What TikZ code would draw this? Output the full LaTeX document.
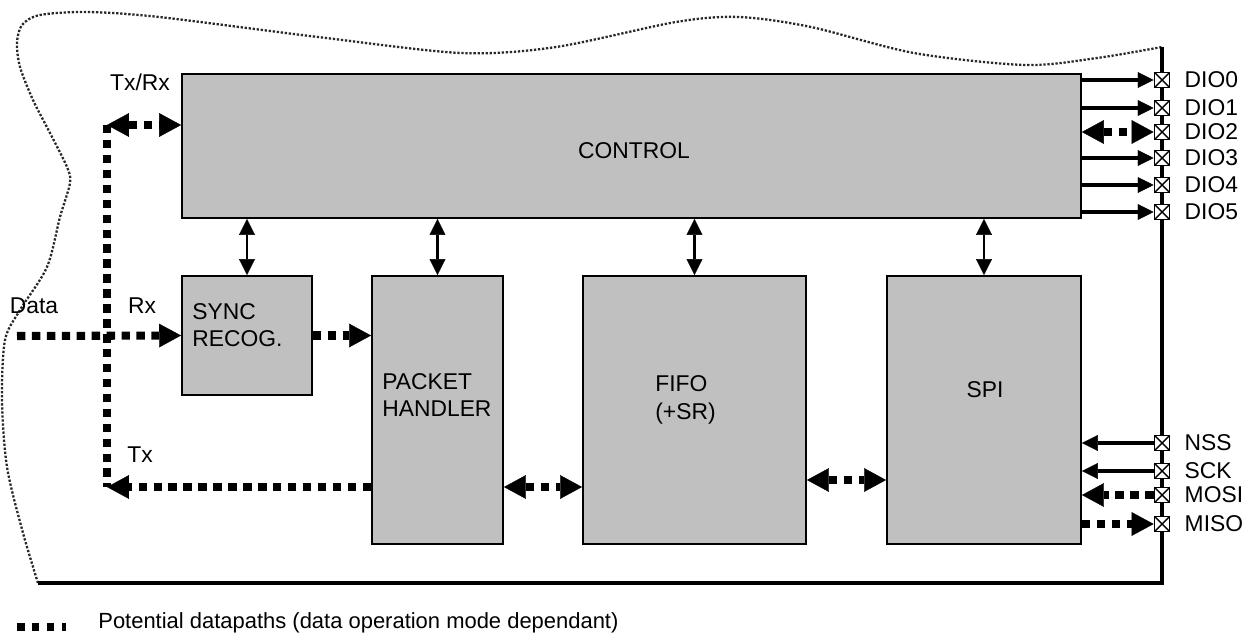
\documentclass[tikz,border=0pt]{standalone}
\usepackage{fontspec}
\setmainfont{Liberation Sans}
\usepackage{tikz}
\usetikzlibrary{arrows.meta}
\definecolor{boxgray}{RGB}{192,192,192}
\definecolor{edgegray}{RGB}{40,40,40}

\begin{document}
\begin{tikzpicture}[x=0.02cm,y=-0.02cm,
    blk/.style={draw,line width=1.1pt,fill=boxgray,inner sep=0pt},
    pin/.style={draw,line width=1pt,fill=white,minimum size=0.3cm,inner sep=0pt,
      label={[pinlbl]right:#1},
      path picture={\draw[line width=0.8pt] (path picture bounding box.north west) -- (path picture bounding box.south east)
        (path picture bounding box.south west) -- (path picture bounding box.north east);}},
    pinlbl/.style={font=\fontsize{13}{15}\selectfont,inner sep=0pt,label distance=0.28cm},
    lbl/.style={font=\fontsize{13}{15.5}\selectfont,inner sep=0pt},
    sig/.style={line width=2pt,-{Triangle[length=9pt,width=9pt,line width=0.2pt]}},
    bus/.style={line width=1.5pt,{Triangle[length=9pt,width=9pt,line width=0.2pt]}-{Triangle[length=9pt,width=9pt,line width=0.2pt]}},
    dpath/.style={line width=4.6pt,dash pattern=on 4.8pt off 3.7pt},
    dtip/.style={-{Triangle[length=12.5pt,width=13.5pt,line width=0.2pt]}},
    ddtip/.style={{Triangle[length=12.5pt,width=13.5pt,line width=0.2pt]}-{Triangle[length=12.5pt,width=13.5pt,line width=0.2pt]}}]
        \useasboundingbox (0,0) rectangle (1245,635);
        \draw[densely dotted,line width=1.3pt,edgegray] plot[smooth] coordinates {(38,583) (23,533) (7,467) (2,400) (5,340) (20,310) (47,267) (60,217) (70,183) (67,167) (50,133) (33,100) (20,67) (17,43) (22,25) (40,15) (87,12) (159,17) (318,37) (461,53) (556,47) (676,22) (739,17) (811,27) (914,53) (1025,65) (1097,58) (1162,47)};
        \coordinate (edgetop) at (1162,47);
        \coordinate (edgecorner) at (1162,583);
        \coordinate (edgeend) at (38,583);
        \draw[line width=2pt] (edgetop) -- (edgecorner) -- (edgeend);
        \node[blk,minimum width=17.98cm,minimum height=2.88cm] (control) at (631.5,146) {};
        \node[blk,minimum width=2.6cm,minimum height=2.38cm] (sync) at (247,335.5) {};
        \node[blk,minimum width=2.62cm,minimum height=5.36cm] (packet) at (437.5,410) {};
        \node[blk,minimum width=4.46cm,minimum height=5.36cm] (fifo) at (694.5,410) {};
        \node[blk,minimum width=3.88cm,minimum height=5.36cm] (spi) at (984,410) {};
        \node[lbl] (controltxt) at (634,151) {CONTROL};
        \node[lbl,align=left,anchor=west] (synctxt) at (192,325) {SYNC\\RECOG.};
        \node[lbl,align=left,anchor=west] (packettxt) at (382,395) {PACKET\\HANDLER};
        \node[lbl,align=left,anchor=west] (fifotxt) at (655,400) {FIFO\\(+SR)};
        \node[lbl] (spitxt) at (985,390) {SPI};
        \node[pin=DIO0] (dio0) at (1162,80) {};
        \node[pin=DIO1] (dio1) at (1162,108) {};
        \node[pin=DIO2] (dio2) at (1162,132) {};
        \node[pin=DIO3] (dio3) at (1162,158) {};
        \node[pin=DIO4] (dio4) at (1162,185) {};
        \node[pin=DIO5] (dio5) at (1162,212) {};
        \node[pin=NSS] (nss) at (1162,443) {};
        \node[pin=SCK] (sck) at (1162,471) {};
        \node[pin=MOSI] (mosi) at (1162,495) {};
        \node[pin=MISO] (miso) at (1162,524) {};
        \draw[sig] (control.east |- dio0) -- (dio0.west);
        \draw[sig] (control.east |- dio1) -- (dio1.west);
        \draw[dpath,ddtip] (control.east |- dio2) -- (dio2.west);
        \draw[sig] (control.east |- dio3) -- (dio3.west);
        \draw[sig] (control.east |- dio4) -- (dio4.west);
        \draw[sig] (control.east |- dio5) -- (dio5.west);
        \draw[sig] (nss.west) -- (spi.east |- nss);
        \draw[sig] (sck.west) -- (spi.east |- sck);
        \draw[dpath,dtip] (mosi.west) -- (spi.east |- mosi);
        \draw[dpath,dtip] (spi.east |- miso) -- (miso.west);
        \draw[bus] (control.south -| sync.north) -- (sync.north);
        \draw[bus] (control.south -| packet.north) -- (packet.north);
        \draw[bus] (control.south -| fifo.north) -- (fifo.north);
        \draw[bus] (control.south -| spi.north) -- (spi.north);
        \coordinate (txrx) at (107,125);
        \coordinate (tx) at (107,487);
        \coordinate (datain) at (17,336);
        \coordinate (fifospi) at (845,480);
        \draw[dpath] (txrx) -- (tx);
        \draw[dpath,ddtip] (txrx) -- (control.west |- txrx);
        \draw[dpath,dtip] (packet.west |- tx) -- (tx);
        \draw[dpath,dtip] (datain) -- (sync.west);
        \draw[dpath,dtip] (sync.east) -- (packet.west |- sync.east);
        \draw[dpath,ddtip] (packet.east |- tx) -- (fifo.west |- tx);
        \draw[dpath,ddtip] (fifo.east |- fifospi) -- (spi.west |- fifospi);
        \node[lbl] (txrxlbl) at (140,82) {Tx/Rx};
        \node[lbl] (datalbl) at (34,306) {Data};
        \node[lbl] (rxlbl) at (142,306) {Rx};
        \node[lbl] (txlbl) at (140,455) {Tx};
        \coordinate (keystart) at (17,627);
        \coordinate (keyend) at (66,627);
        \draw[line width=4.3pt,dash pattern=on 4.3pt off 4.2pt] (keystart) -- (keyend);
        \node[lbl,anchor=west,font=\fontsize{12.5}{15}\selectfont] (keytxt) at (98,623) {Potential datapaths (data operation mode dependant)};
\end{tikzpicture}
\end{document}
